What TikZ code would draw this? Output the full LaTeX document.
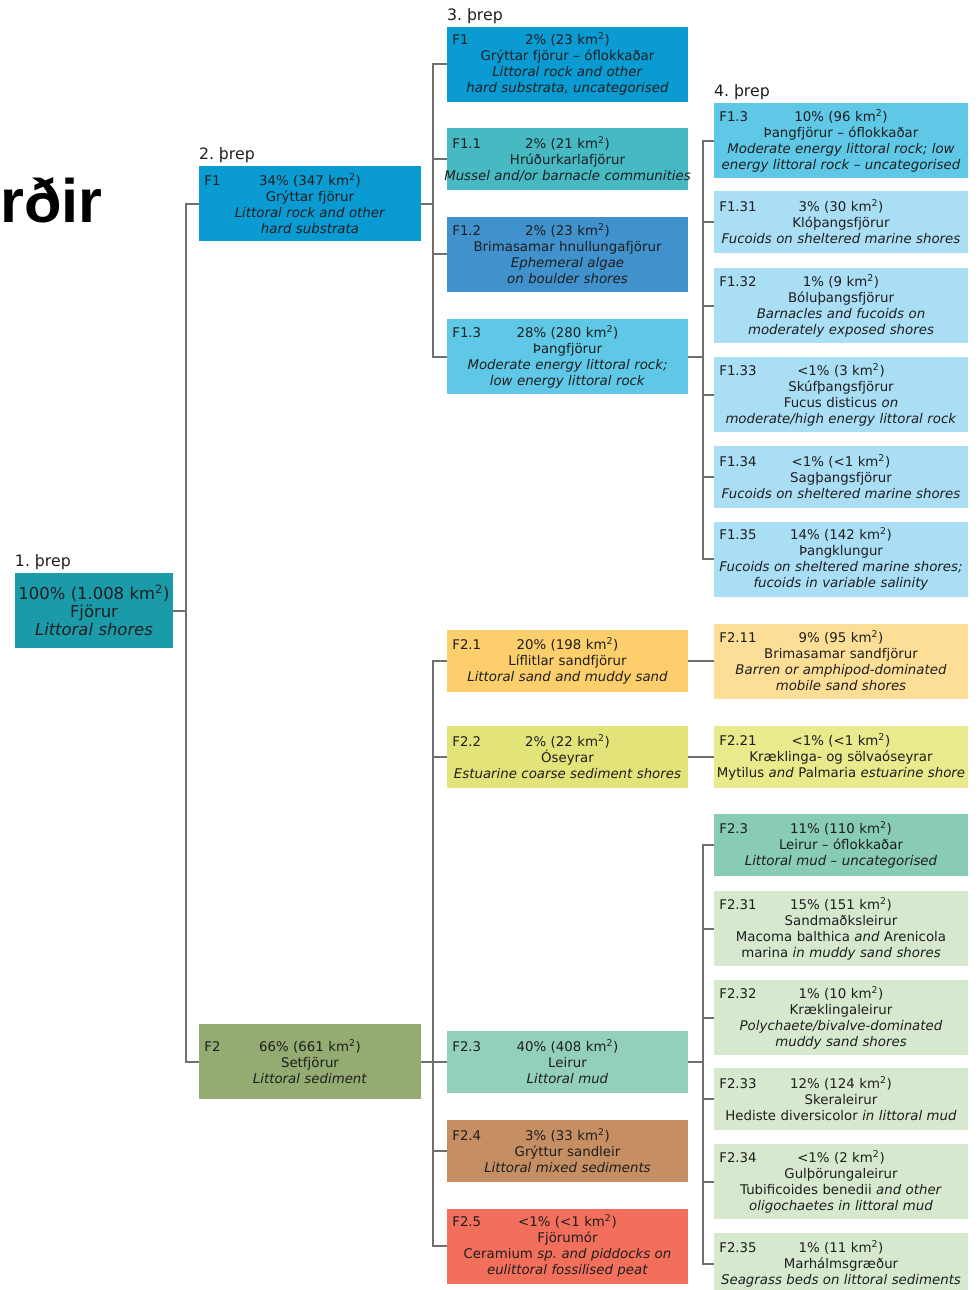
\documentclass[tikz,border=0pt]{standalone}
\usepackage{fontspec}
\setmainfont{DejaVu Sans}
\newfontfamily\titlefont{Liberation Sans}
\usetikzlibrary{positioning}
\frenchspacing

\definecolor{txt}{HTML}{1E1E1E}
\definecolor{linegray}{HTML}{707070}
\definecolor{cRoot}{HTML}{1B9BAA}
\definecolor{cFa}{HTML}{0A9BD2}
\definecolor{cFaa}{HTML}{46B9C3}
\definecolor{cFab}{HTML}{4191CD}
\definecolor{cFac}{HTML}{5FC8E6}
\definecolor{cFacx}{HTML}{AADEF5}
\definecolor{cFb}{HTML}{94AC72}
\definecolor{cFba}{HTML}{FCCE6C}
\definecolor{cFbaa}{HTML}{FDDE96}
\definecolor{cFbb}{HTML}{E2E47A}
\definecolor{cFbbb}{HTML}{E8EA8C}
\definecolor{cFbc}{HTML}{93CFBD}
\definecolor{cFbcu}{HTML}{88CBB6}
\definecolor{cFbcx}{HTML}{D6E9CE}
\definecolor{cFbd}{HTML}{C68E63}
\definecolor{cFbe}{HTML}{F26F5C}

% first line of a box: code on the left, share centred
\newcommand{\topline}[2]{\makebox[\linewidth]{\rlap{\hspace{3pt}#1}\hfill#2\hfill}}
\newcommand{\kmsq}[1]{#1 km\textsuperscript{2}}
% long line that may run into the margin
\newcommand{\wide}[1]{\makebox[\linewidth]{#1}}

\tikzset{
  hab/.style={fill=#1, text=txt, align=center, inner xsep=1pt, inner ysep=0pt,
    font=\fontsize{10}{12}\selectfont},
  col1/.style={minimum width=118.5pt, text width=116.5pt, font=\fontsize{12.3}{13.5}\selectfont},
  col2/.style={minimum width=166.5pt, text width=164.5pt},
  col3/.style={minimum width=180.75pt, text width=178.75pt},
  col4/.style={minimum width=190.5pt, text width=188.5pt},
  tall/.style={minimum height=56.25pt},
  low/.style={minimum height=46.5pt},
  link/.style={draw=linegray, line width=1.5pt},
  steplabel/.style={text=txt, inner xsep=0pt, inner ysep=2pt, font=\fontsize{11.8}{13}\selectfont},
}

\begin{document}
\begin{tikzpicture}[x=0.75pt, y=-0.75pt]
  \useasboundingbox (0,0) rectangle (980,1290);

  % cut-off title on the left
  \node[anchor=base west, inner sep=0pt, font=\titlefont\bfseries\fontsize{46}{50}\selectfont] (title) at (0,222) {rðir};

  % 1. þrep
  \node[hab=cRoot, col1, tall] (root) at (94,610.5)
    {\kmsq{100\% (1.008}) \\ Fjörur \\ \textit{Littoral shores}};

  % 2. þrep
  \node[hab=cFa, col2, tall] (f1) at (310,203.5)
    {\topline{F1}{\kmsq{34\% (347})} \\ Grýttar fjörur \\ \textit{Littoral rock and other} \\ \textit{hard substrata}};
  \node[hab=cFb, col2, tall] (f2) at (310,1061.5)
    {\topline{F2}{\kmsq{66\% (661})} \\ Setfjörur \\ \textit{Littoral sediment}};

  % 3. þrep
  \node[hab=cFa, col3, tall] (f1u) at (567.5,64)
    {\topline{F1}{\kmsq{2\% (23})} \\ Grýttar fjörur – óflokkaðar \\ \textit{Littoral rock and other} \\ \textit{hard substrata, uncategorised}};
  \node[hab=cFaa, col3, low] (f11) at (567.5,159)
    {\topline{F1.1}{\kmsq{2\% (21})} \\ Hrúðurkarlafjörur \\ \wide{\textit{Mussel and/or barnacle communities}}};
  \node[hab=cFab, col3, tall] (f12) at (567.5,254)
    {\topline{F1.2}{\kmsq{2\% (23})} \\ Brimasamar hnullungafjörur \\ \textit{Ephemeral algae} \\ \textit{on boulder shores}};
  \node[hab=cFac, col3, tall] (f13) at (567.5,356.5)
    {\topline{F1.3}{\kmsq{28\% (280})} \\ Þangfjörur \\ \textit{Moderate energy littoral rock;} \\ \textit{low energy littoral rock}};
  \node[hab=cFba, col3, low] (f21) at (567.5,661)
    {\topline{F2.1}{\kmsq{20\% (198})} \\ Líflitlar sandfjörur \\ \textit{Littoral sand and muddy sand}};
  \node[hab=cFbb, col3, low] (f22) at (567.5,756.5)
    {\topline{F2.2}{\kmsq{2\% (22})} \\ Óseyrar \\ \wide{\textit{Estuarine coarse sediment shores}}};
  \node[hab=cFbc, col3, low] (f23) at (567.5,1061.5)
    {\topline{F2.3}{\kmsq{40\% (408})} \\ Leirur \\ \textit{Littoral mud}};
  \node[hab=cFbd, col3, low] (f24) at (567.5,1150.5)
    {\topline{F2.4}{\kmsq{3\% (33})} \\ Grýttur sandleir \\ \textit{Littoral mixed sediments}};
  \node[hab=cFbe, col3, tall] (f25) at (567.5,1246)
    {\topline{F2.5}{\kmsq{<1\% (<1})} \\ Fjörumór \\ Ceramium \textit{sp. and piddocks on} \\ \textit{eulittoral fossilised peat}};

  % 4. þrep
  \node[hab=cFac, col4, tall] (f13u) at (841,140.5)
    {\topline{F1.3}{\kmsq{10\% (96})} \\ Þangfjörur – óflokkaðar \\ \wide{\textit{Moderate energy littoral rock; low}} \\ \wide{\textit{energy littoral rock – uncategorised}}};
  \node[hab=cFacx, col4, low] (f131) at (841,222)
    {\topline{F1.31}{\kmsq{3\% (30})} \\ Klóþangsfjörur \\ \wide{\textit{Fucoids on sheltered marine shores}}};
  \node[hab=cFacx, col4, tall] (f132) at (841,305.5)
    {\topline{F1.32}{\kmsq{1\% (9})} \\ Bóluþangsfjörur \\ \textit{Barnacles and fucoids on} \\ \textit{moderately exposed shores}};
  \node[hab=cFacx, col4, tall] (f133) at (841,394.5)
    {\topline{F1.33}{\kmsq{<1\% (3})} \\ Skúfþangsfjörur \\ Fucus disticus \textit{on} \\ \wide{\textit{moderate/high energy littoral rock}}};
  \node[hab=cFacx, col4, low] (f134) at (841,476.5)
    {\topline{F1.34}{\kmsq{<1\% (<1})} \\ Sagþangsfjörur \\ \wide{\textit{Fucoids on sheltered marine shores}}};
  \node[hab=cFacx, col4, tall] (f135) at (841,559)
    {\topline{F1.35}{\kmsq{14\% (142})} \\ Þangklungur \\ \wide{\textit{Fucoids on sheltered marine shores;}} \\ \textit{fucoids in variable salinity}};
  \node[hab=cFbaa, col4, tall] (f211) at (841,661)
    {\topline{F2.11}{\kmsq{9\% (95})} \\ Brimasamar sandfjörur \\ \textit{Barren or amphipod-dominated} \\ \textit{mobile sand shores}};
  \node[hab=cFbbb, col4, low] (f221) at (841,756.5)
    {\topline{F2.21}{\kmsq{<1\% (<1})} \\ Kræklinga- og sölvaóseyrar \\ \wide{Mytilus \textit{and} Palmaria \textit{estuarine shore}}};
  \node[hab=cFbcu, col4, low] (f23u) at (841,845)
    {\topline{F2.3}{\kmsq{11\% (110})} \\ Leirur – óflokkaðar \\ \textit{Littoral mud – uncategorised}};
  \node[hab=cFbcx, col4, tall] (f231) at (841,928.5)
    {\topline{F2.31}{\kmsq{15\% (151})} \\ Sandmaðksleirur \\ \wide{Macoma balthica \textit{and} Arenicola} \\ marina \textit{in muddy sand shores}};
  \node[hab=cFbcx, col4, tall] (f232) at (841,1017.5)
    {\topline{F2.32}{\kmsq{1\% (10})} \\ Kræklingaleirur \\ \textit{Polychaete/bivalve-dominated} \\ \textit{muddy sand shores}};
  \node[hab=cFbcx, col4, low] (f233) at (841,1099)
    {\topline{F2.33}{\kmsq{12\% (124})} \\ Skeraleirur \\ \wide{Hediste diversicolor \textit{in littoral mud}}};
  \node[hab=cFbcx, col4, tall] (f234) at (841,1181.5)
    {\topline{F2.34}{\kmsq{<1\% (2})} \\ Gulþörungaleirur \\ \wide{Tubificoides benedii \textit{and other}} \\ \textit{oligochaetes in littoral mud}};
  \node[hab=cFbcx, col4, low] (f235) at (841,1264)
    {\topline{F2.35}{\kmsq{1\% (11})} \\ Marhálmsgræður \\ \wide{\textit{Seagrass beds on littoral sediments}}};

  % step labels above the first box of each column
  \node[steplabel, above right=0pt and 0pt of root.north west] (s1) {1. þrep};
  \node[steplabel, above right=0pt and 0pt of f1.north west] (s2) {2. þrep};
  \node[steplabel, above right=0pt and 0pt of f1u.north west] (s3) {3. þrep};
  \node[steplabel, above right=0pt and 0pt of f13u.north west] (s4) {4. þrep};

  % tree connectors
  \foreach \c in {f1,f2}
    \draw[link] (root.east) -- ++(13,0) |- (\c.west);
  \foreach \c in {f1u,f11,f12,f13}
    \draw[link] (f1.east) -- ++(12,0) |- (\c.west);
  \foreach \c in {f13u,f131,f132,f133,f134,f135}
    \draw[link] (f13.east) -- ++(15,0) |- (\c.west);
  \foreach \c in {f21,f22,f23,f24,f25}
    \draw[link] (f2.east) -- ++(12,0) |- (\c.west);
  \foreach \c in {f23u,f231,f232,f233,f234,f235}
    \draw[link] (f23.east) -- ++(15,0) |- (\c.west);
  \draw[link] (f21.east) -- (f211.west);
  \draw[link] (f22.east) -- (f221.west);
\end{tikzpicture}
\end{document}
